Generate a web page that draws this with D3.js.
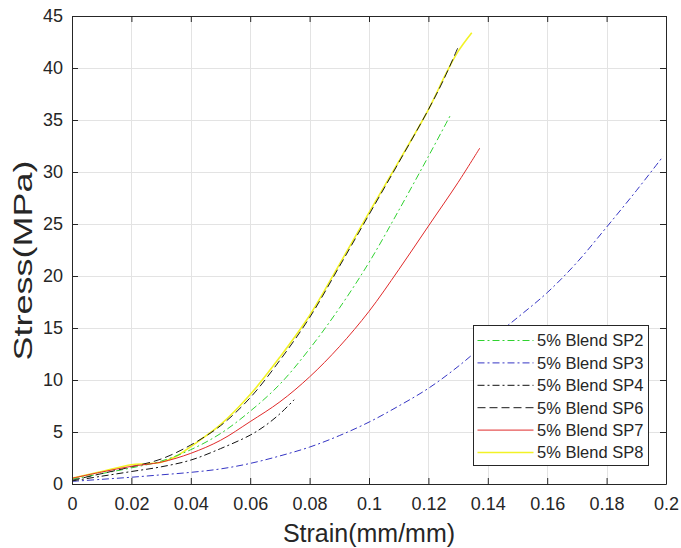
<!DOCTYPE html>
<html>
<head>
<meta charset="utf-8">
<script src="https://cdn.jsdelivr.net/npm/d3@7"></script>
<style>
  html, body { margin: 0; padding: 0; background: #fff; }
  svg { display: block; }
  text { font-family: "Liberation Sans", Arial, Helvetica, sans-serif; fill: #262626; }
</style>
</head>
<body>
<script>
// Stress–strain curves for the 5% blend specimens
const seriesNames = ["5% Blend SP2", "5% Blend SP3", "5% Blend SP4", "5% Blend SP6", "5% Blend SP7", "5% Blend SP8"];

const strainSP2 = [0, 0.01, 0.02, 0.03, 0.04, 0.05, 0.06, 0.07, 0.08, 0.09, 0.10, 0.11, 0.12, 0.1273];
const stressSP2 = [0.45, 1.0, 1.55, 2.2, 3.3, 4.85, 7.0, 9.6, 13.0, 16.9, 21.3, 26.3, 31.5, 35.4];

const strainSP3 = [0, 0.01, 0.02, 0.03, 0.04, 0.05, 0.06, 0.07, 0.08, 0.09, 0.10, 0.11, 0.12, 0.13, 0.14, 0.15, 0.16, 0.17, 0.18, 0.19, 0.199];
const stressSP3 = [0.25, 0.45, 0.65, 0.88, 1.12, 1.45, 1.98, 2.7, 3.55, 4.65, 5.95, 7.5, 9.2, 11.3, 13.7, 16.0, 18.4, 21.3, 24.7, 28.2, 31.5];

const strainSP4 = [0, 0.01, 0.02, 0.03, 0.04, 0.05, 0.06, 0.065, 0.07, 0.0748];
const stressSP4 = [0.3, 0.75, 1.2, 1.65, 2.3, 3.4, 4.7, 5.6, 6.75, 8.1];

const strainSP6 = [0, 0.01, 0.02, 0.03, 0.04, 0.05, 0.06, 0.07, 0.08, 0.09, 0.10, 0.11, 0.12, 0.125, 0.130];
const stressSP6 = [0.35, 1.0, 1.65, 2.4, 3.75, 5.6, 8.3, 11.9, 16.0, 20.9, 25.9, 30.9, 36.0, 38.8, 42.0];

const strainSP7 = [0, 0.01, 0.02, 0.03, 0.04, 0.05, 0.06, 0.07, 0.08, 0.09, 0.10, 0.11, 0.12, 0.13, 0.1373];
const stressSP7 = [0.55, 1.15, 1.7, 2.1, 2.95, 4.2, 6.0, 7.9, 10.3, 13.2, 16.6, 20.6, 24.8, 29.0, 32.3];

const strainSP8 = [0, 0.01, 0.02, 0.025, 0.03, 0.035, 0.04, 0.05, 0.06, 0.07, 0.08, 0.09, 0.10, 0.11, 0.12, 0.126, 0.130, 0.1346];
const stressSP8 = [0.55, 1.2, 1.85, 1.95, 2.1, 2.65, 3.6, 5.7, 8.6, 12.2, 16.2, 21.1, 26.1, 31.0, 36.0, 39.5, 41.6, 43.4];

const xTicks = [0, 0.02, 0.04, 0.06, 0.08, 0.1, 0.12, 0.14, 0.16, 0.18, 0.2];
const xTickLabels = ["0", "0.02", "0.04", "0.06", "0.08", "0.1", "0.12", "0.14", "0.16", "0.18", "0.2"];
const yTicks = [0, 5, 10, 15, 20, 25, 30, 35, 40, 45];
const yTickLabels = ["0", "5", "10", "15", "20", "25", "30", "35", "40", "45"];

const xTitle = "Strain(mm/mm)";
const yTitle = "Stress(MPa)";

const seriesData = [
  { name: seriesNames[0], x: strainSP2, y: stressSP2, color: "#2fd22f", dash: "7,3,2,3", width: 1 },
  { name: seriesNames[1], x: strainSP3, y: stressSP3, color: "#3535c4", dash: "7,3,2,3", width: 1 },
  { name: seriesNames[2], x: strainSP4, y: stressSP4, color: "#111111", dash: "7,3,2,3", width: 1 },
  { name: seriesNames[3], x: strainSP6, y: stressSP6, color: "#1a1a1a", dash: "8,4", width: 1 },
  { name: seriesNames[4], x: strainSP7, y: stressSP7, color: "#e02a2a", dash: null, width: 1 },
  { name: seriesNames[5], x: strainSP8, y: stressSP8, color: "#f2f226", dash: null, width: 1.6 }
];

const W = 681, H = 548;
const m = { left: 72, right: 15, top: 16, bottom: 64 };
const pw = W - m.left - m.right, ph = H - m.top - m.bottom;

const x = d3.scaleLinear().domain([0, 0.2]).range([0, pw]);
const y = d3.scaleLinear().domain([0, 45]).range([ph, 0]);

const svg = d3.select("body").append("svg").attr("width", W).attr("height", H);
const g = svg.append("g").attr("transform", `translate(${m.left},${m.top})`);

// grid
const grid = g.append("g").attr("stroke", "#e3e3e3").attr("stroke-width", 1);
grid.selectAll(".gx").data(xTicks.slice(1, -1)).join("line")
  .attr("x1", d => Math.round(x(d)) + 0.5).attr("x2", d => Math.round(x(d)) + 0.5)
  .attr("y1", 0).attr("y2", ph);
grid.selectAll(".gy").data(yTicks.slice(1, -1)).join("line")
  .attr("y1", d => Math.round(y(d)) + 0.5).attr("y2", d => Math.round(y(d)) + 0.5)
  .attr("x1", 0).attr("x2", pw);

// curves (yellow first so the dashed black trace stays visible on top of it)
const line = d3.line().curve(d3.curveCatmullRom.alpha(0.5)).x(d => x(d[0])).y(d => y(d[1]));
const drawOrder = [5, 0, 1, 2, 3, 4];
const curves = g.append("g").attr("fill", "none");
drawOrder.forEach(i => {
  const s = seriesData[i];
  curves.append("path")
    .datum(s.x.map((v, k) => [v, s.y[k]]))
    .attr("d", line)
    .attr("stroke", s.color)
    .attr("stroke-width", s.width)
    .attr("stroke-dasharray", s.dash);
});

// axes with inward ticks on all four sides
const tickLen = 6;
const axisColor = "#262626";
const xAxisB = d3.axisBottom(x).tickValues(xTicks).tickSizeInner(-tickLen).tickSizeOuter(0)
  .tickPadding(13).tickFormat((d, i) => xTickLabels[i]);
const xAxisT = d3.axisTop(x).tickValues(xTicks).tickSizeInner(-tickLen).tickSizeOuter(0).tickFormat("");
const yAxisL = d3.axisLeft(y).tickValues(yTicks).tickSizeInner(-tickLen).tickSizeOuter(0)
  .tickPadding(9).tickFormat((d, i) => yTickLabels[i]);
const yAxisR = d3.axisRight(y).tickValues(yTicks).tickSizeInner(-tickLen).tickSizeOuter(0).tickFormat("");

function styleAxis(sel) {
  sel.select(".domain").attr("stroke", axisColor);
  sel.selectAll(".tick line").attr("stroke", axisColor);
  sel.selectAll(".tick text").attr("fill", axisColor).style("font-size", "18px")
    .style("font-family", '"Liberation Sans", Arial, sans-serif');
}
g.append("g").attr("transform", `translate(0,${ph})`).call(xAxisB).call(styleAxis);
g.append("g").call(xAxisT).call(styleAxis);
g.append("g").call(yAxisL).call(styleAxis);
g.append("g").attr("transform", `translate(${pw},0)`).call(yAxisR).call(styleAxis);

// axis titles
svg.append("text")
  .attr("x", m.left + pw / 2).attr("y", 542)
  .attr("text-anchor", "middle").style("font-size", "25px").text(xTitle);
svg.append("text")
  .attr("transform", `translate(32,${m.top + y(21.5)}) rotate(-90)`)
  .attr("text-anchor", "middle").style("font-size", "25px")
  .attr("textLength", 200).attr("lengthAdjust", "spacingAndGlyphs")
  .text(yTitle);

// legend
const lg = svg.append("g").attr("transform", "translate(473.5,325.5)");
const rowH = 22.4;
lg.append("rect").attr("width", 175).attr("height", 140)
  .attr("fill", "#fff").attr("stroke", axisColor).attr("stroke-width", 1);
seriesData.forEach((s, i) => {
  const ry = 15 + i * rowH;
  lg.append("line").attr("x1", 4).attr("x2", 60).attr("y1", ry).attr("y2", ry)
    .attr("stroke", s.color).attr("stroke-width", s.width)
    .attr("stroke-dasharray", s.dash);
  lg.append("text").attr("x", 63.5).attr("y", ry).attr("dy", "0.36em")
    .style("font-size", "16.5px").text(s.name);
});
</script>
</body>
</html>
